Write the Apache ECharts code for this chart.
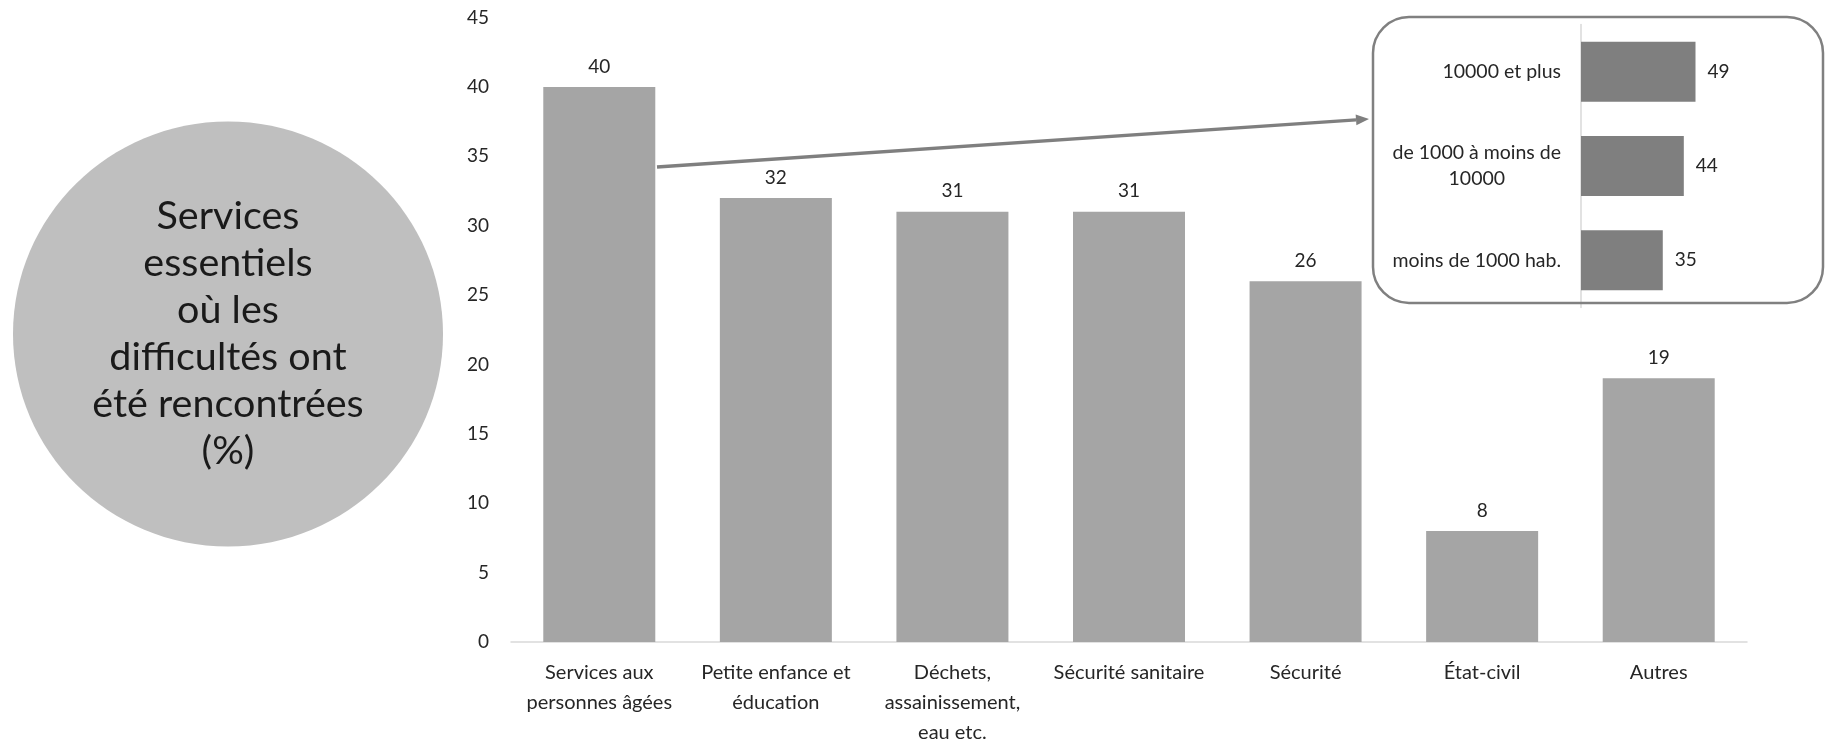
<!DOCTYPE html>
<html>
<head>
<meta charset="utf-8">
<script src="https://cdn.jsdelivr.net/npm/echarts@6/dist/echarts.min.js"></script>
<style>
  html, body { margin: 0; padding: 0; background: #ffffff; }
  #chart { width: 1825px; height: 743px; }
</style>
</head>
<body>
<div id="chart"></div>
<script>
// Essential services where difficulties were met (%)
const categories = [
  'Services aux\npersonnes âgées',
  'Petite enfance et\néducation',
  'Déchets,\nassainissement,\neau etc.',
  'Sécurité sanitaire',
  'Sécurité',
  'État-civil',
  'Autres'
];
const shares = [40, 32, 31, 31, 26, 8, 19];

// Value axis ticks
const yMin = 0;
const yMax = 45;
const yStep = 5;

// Detail for "Services aux personnes âgées", by commune size
const sizeClasses = ['10000 et plus', 'de 1000 à moins de\n10000', 'moins de 1000 hab.'];
const sizeShares = [49, 44, 35];

const circleTitle = ['Services', 'essentiels', 'où les', 'difficultés ont', 'été rencontrées', '(%)'];

const FONT = 'Lato, "Open Sans", sans-serif';
const TEXT = '#262626';

const chart = echarts.init(document.getElementById('chart'), null, { renderer: 'canvas' });

// Arrow from the first bar towards the detail box
const arrowStart = [657, 167];
const arrowTip = [1369, 119];
const dx = arrowTip[0] - arrowStart[0], dy = arrowTip[1] - arrowStart[1];
const len = Math.sqrt(dx * dx + dy * dy);
const ux = dx / len, uy = dy / len;
const headLen = 13, headHalf = 5.5;
const back = [arrowTip[0] - ux * headLen, arrowTip[1] - uy * headLen];

chart.setOption({
  animation: false,
  backgroundColor: '#ffffff',
  textStyle: { fontFamily: FONT },
  grid: [
    { left: 511, right: 78, top: 17.5, bottom: 101, containLabel: false, outerBoundsMode: 'none' },
    { left: 1581, top: 24.5, width: 140.2, height: 283, containLabel: false, outerBoundsMode: 'none' }
  ],
  xAxis: [
    {
      type: 'category',
      gridIndex: 0,
      data: categories,
      axisLine: { show: true, lineStyle: { color: '#d9d9d9', width: 1.5 } },
      axisTick: { show: false },
      axisLabel: {
        interval: 0,
        margin: 16,
        fontSize: 20,
        lineHeight: 30,
        color: TEXT,
        fontFamily: FONT
      },
      splitLine: { show: false }
    },
    {
      type: 'value',
      gridIndex: 1,
      min: 0,
      max: 60,
      show: false,
      splitLine: { show: false }
    }
  ],
  yAxis: [
    {
      type: 'value',
      gridIndex: 0,
      min: yMin,
      max: yMax,
      interval: yStep,
      axisLine: { show: false },
      axisTick: { show: false },
      splitLine: { show: false },
      axisLabel: { margin: 22, fontSize: 19, color: TEXT, fontFamily: FONT }
    },
    {
      type: 'category',
      gridIndex: 1,
      inverse: true,
      data: sizeClasses,
      axisLine: { show: true, lineStyle: { color: '#d9d9d9', width: 1.5 } },
      axisTick: { show: false },
      splitLine: { show: false },
      axisLabel: {
        margin: 20,
        fontSize: 19.5,
        color: TEXT,
        fontFamily: FONT,
        lineHeight: 26,
        formatter: function (v) {
          if (v.indexOf('\n') < 0) return v;
          return v.split('\n').map(function (l) { return '{c|' + l + '}'; }).join('\n');
        },
        rich: {
          c: { align: 'center', fontSize: 19.5, lineHeight: 26, color: TEXT, fontFamily: FONT }
        }
      }
    }
  ],
  series: [
    {
      type: 'bar',
      xAxisIndex: 0,
      yAxisIndex: 0,
      data: shares,
      barWidth: 112,
      itemStyle: { color: '#a5a5a5' },
      label: {
        show: true,
        position: 'top',
        distance: 11,
        fontSize: 19,
        color: TEXT,
        fontFamily: FONT
      },
      z: 2
    },
    {
      type: 'bar',
      xAxisIndex: 1,
      yAxisIndex: 1,
      data: sizeShares,
      barWidth: 60,
      itemStyle: { color: '#7f7f7f' },
      label: {
        show: true,
        position: 'right',
        distance: 12,
        fontSize: 19,
        color: TEXT,
        fontFamily: FONT
      },
      z: 3
    }
  ],
  graphic: [
    {
      type: 'ellipse',
      shape: { cx: 228, cy: 334, rx: 215, ry: 212.5 },
      style: { fill: '#bfbfbf' },
      z: 1
    },
    {
      type: 'text',
      x: 228,
      y: 334,
      style: {
        text: circleTitle.join('\n'),
        align: 'center',
        verticalAlign: 'middle',
        font: '39.5px ' + FONT,
        lineHeight: 47,
        fill: '#1a1a1a'
      },
      z: 2
    },
    {
      type: 'rect',
      shape: { x: 1373, y: 17, width: 450, height: 286, r: 36 },
      style: { fill: 'none', stroke: '#808080', lineWidth: 2.5 },
      z: 1
    },
    {
      type: 'line',
      shape: { x1: arrowStart[0], y1: arrowStart[1], x2: back[0], y2: back[1] },
      style: { stroke: '#7f7f7f', lineWidth: 3.5 },
      z: 5
    },
    {
      type: 'polygon',
      shape: {
        points: [
          arrowTip,
          [back[0] - uy * headHalf, back[1] + ux * headHalf],
          [back[0] + uy * headHalf, back[1] - ux * headHalf]
        ]
      },
      style: { fill: '#7f7f7f' },
      z: 5
    }
  ]
});
</script>
</body>
</html>
